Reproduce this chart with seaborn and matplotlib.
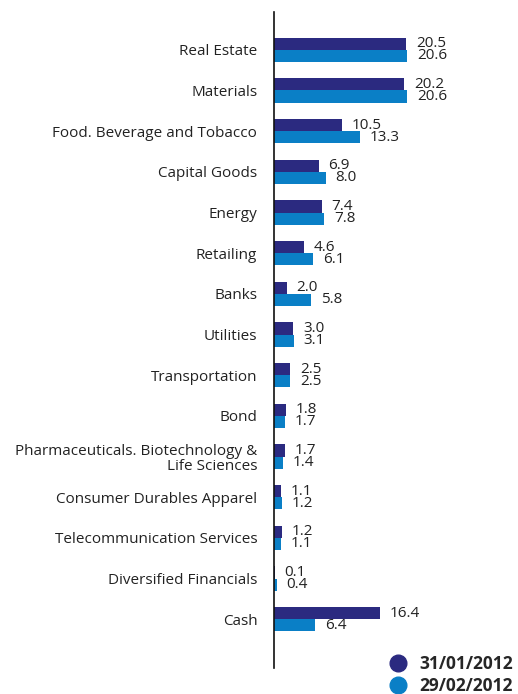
import pandas as pd
import matplotlib.pyplot as plt
import seaborn as sns
from matplotlib.lines import Line2D

# Sector weights (%)
sectors = ['Real Estate', 'Materials', 'Food. Beverage and Tobacco', 'Capital Goods',
           'Energy', 'Retailing', 'Banks', 'Utilities', 'Transportation', 'Bond',
           'Pharmaceuticals. Biotechnology &\nLife Sciences', 'Consumer Durables Apparel',
           'Telecommunication Services', 'Diversified Financials', 'Cash']
jan = [20.5, 20.2, 10.5, 6.9, 7.4, 4.6, 2.0, 3.0, 2.5, 1.8, 1.7, 1.1, 1.2, 0.1, 16.4]
feb = [20.6, 20.6, 13.3, 8.0, 7.8, 6.1, 5.8, 3.1, 2.5, 1.7, 1.4, 1.2, 1.1, 0.4, 6.4]
dates = ['31/01/2012', '29/02/2012']
colors = ['#2b2a80', '#0a7fc6']

df = pd.DataFrame({
    'Sector': sectors * 2,
    'Weight': jan + feb,
    'Date': [dates[0]] * len(sectors) + [dates[1]] * len(sectors),
})

sns.set_style('white')
plt.rcParams['font.family'] = ['Open Sans', 'DejaVu Sans']

fig = plt.figure(figsize=(5.18, 6.94), dpi=100)
ax = fig.add_axes([274 / 518, 1 - 668 / 694, (518 - 274) / 518, (668 - 12) / 694])

sns.barplot(data=df, x='Weight', y='Sector', hue='Date', palette=colors,
            orient='h', width=0.6, ax=ax, legend=False, saturation=1, linewidth=0)

for cont in ax.containers:
    ax.bar_label(cont, fmt='%.1f', padding=7, fontsize=11, color='#222222')

ax.set_xlim(0, 244 / 6.46)
ax.set_ylim(15.2, -0.93)
ax.set_xlabel('')
ax.set_ylabel('')
ax.set_xticks([])
ax.tick_params(axis='y', length=0, pad=12, labelsize=11, labelcolor='#222222')
for lbl in ax.get_yticklabels():
    lbl.set_horizontalalignment('right')
    lbl.set_linespacing(1.05)
for s in ['top', 'right', 'bottom']:
    ax.spines[s].set_visible(False)
ax.spines['left'].set_color('#111111')
ax.spines['left'].set_linewidth(1.2)

handles = [Line2D([], [], marker='o', linestyle='', markersize=12,
                  markerfacecolor=c, markeredgecolor=c) for c in colors]
leg = fig.legend(handles, dates, loc='lower right', bbox_to_anchor=(1.02, -0.024),
                 frameon=False, handletextpad=0.2, labelspacing=0.22,
                 prop={'weight': 'bold', 'size': 12.5})

fig.savefig('out.png', dpi=100)
